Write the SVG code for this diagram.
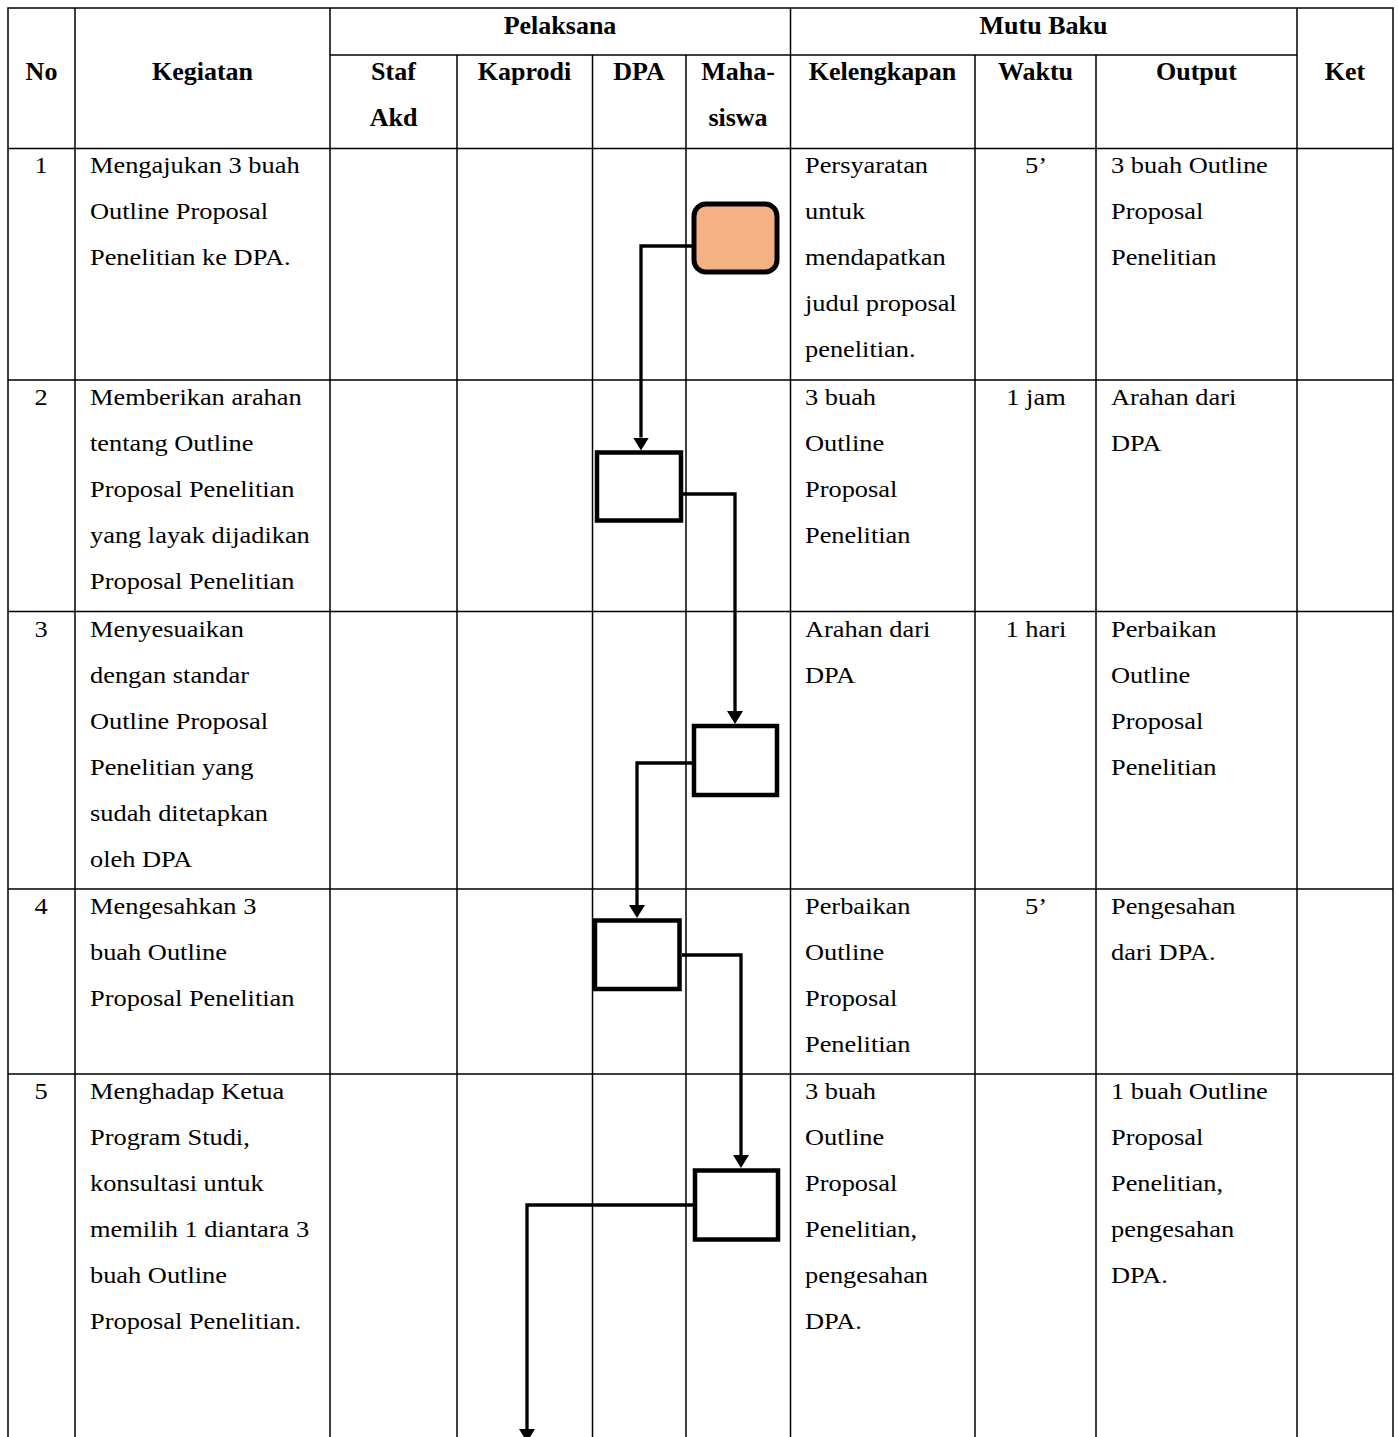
<svg xmlns="http://www.w3.org/2000/svg" width="1398" height="1437" viewBox="0 0 1398 1437">
<style>
.grid{stroke:#000;stroke-width:1.5;fill:none}
.hd{font-family:"Liberation Serif","Times New Roman",serif;font-weight:bold;font-size:26px;text-anchor:middle;fill:#000}
.bd{font-family:"Liberation Serif","Times New Roman",serif;font-size:24px;fill:#000}
.mid{text-anchor:middle}
.box{fill:#fff;stroke:#000;stroke-width:4.5}
.start{fill:#F4B183;stroke:#000;stroke-width:5}
.conn{fill:none;stroke:#000;stroke-width:3.3}
</style>
<defs>
<marker id="arr" markerUnits="userSpaceOnUse" viewBox="0 0 13 16" refX="0" refY="8" markerWidth="13" markerHeight="16" orient="auto">
<path d="M0,0 L13,8 L0,16 z" fill="#000"/>
</marker>
</defs>
<rect width="1398" height="1437" fill="#fff"/>
<g id="table" class="grid">
<path d="M8,1440 V8 H1393 V1440"/>
<path d="M75,8 V1440 M330,8 V1440 M790.5,8 V1440 M1297,8 V1440"/>
<path d="M457,55 V1440 M592.5,55 V1440 M686,55 V1440 M975,55 V1440 M1096,55 V1440"/>
<path d="M330,55 H1297"/>
<path d="M8,148.5 H1393 M8,380 H1393 M8,611.5 H1393 M8,889 H1393 M8,1074 H1393"/>
</g>
<g id="header">
<text class="hd" x="41.5" y="80">No</text>
<text class="hd" x="202.5" y="80">Kegiatan</text>
<text class="hd" x="560" y="34">Pelaksana</text>
<text class="hd" x="1043.5" y="34">Mutu Baku</text>
<text class="hd" x="1345" y="80">Ket</text>
<text class="hd" x="393.5" y="80">Staf</text>
<text class="hd" x="393.5" y="126">Akd</text>
<text class="hd" x="524.5" y="80">Kaprodi</text>
<text class="hd" x="639" y="80">DPA</text>
<text class="hd" x="738" y="80">Maha-</text>
<text class="hd" x="738" y="126">siswa</text>
<text class="hd" x="882.5" y="80">Kelengkapan</text>
<text class="hd" x="1035.5" y="80">Waktu</text>
<text class="hd" x="1196.5" y="80">Output</text>
</g>
<g id="body" class="bd" transform="scale(1.1,1)">
<g id="row1">
<text class="mid" x="37.3" y="173.5">1</text>
<text x="81.8"><tspan x="81.8" y="173.5">Mengajukan 3 buah</tspan><tspan x="81.8" y="219.5">Outline Proposal</tspan><tspan x="81.8" y="265.5">Penelitian ke DPA.</tspan></text>
<text x="731.8"><tspan x="731.8" y="173.5">Persyaratan</tspan><tspan x="731.8" y="219.5">untuk</tspan><tspan x="731.8" y="265.5">mendapatkan</tspan><tspan x="731.8" y="311.5">judul proposal</tspan><tspan x="731.8" y="357.5">penelitian.</tspan></text>
<text class="mid" x="941.8" y="173.5">5’</text>
<text x="1010"><tspan x="1010" y="173.5">3 buah Outline</tspan><tspan x="1010" y="219.5">Proposal</tspan><tspan x="1010" y="265.5">Penelitian</tspan></text>
</g>
<g id="row2">
<text class="mid" x="37.3" y="405.5">2</text>
<text x="81.8"><tspan x="81.8" y="405.5">Memberikan arahan</tspan><tspan x="81.8" y="451.5">tentang Outline</tspan><tspan x="81.8" y="497.5">Proposal Penelitian</tspan><tspan x="81.8" y="543.5">yang layak dijadikan</tspan><tspan x="81.8" y="589.5">Proposal Penelitian</tspan></text>
<text x="731.8"><tspan x="731.8" y="405.5">3 buah</tspan><tspan x="731.8" y="451.5">Outline</tspan><tspan x="731.8" y="497.5">Proposal</tspan><tspan x="731.8" y="543.5">Penelitian</tspan></text>
<text class="mid" x="941.8" y="405.5">1 jam</text>
<text x="1010"><tspan x="1010" y="405.5">Arahan dari</tspan><tspan x="1010" y="451.5">DPA</tspan></text>
</g>
<g id="row3">
<text class="mid" x="37.3" y="637">3</text>
<text x="81.8"><tspan x="81.8" y="637">Menyesuaikan</tspan><tspan x="81.8" y="683">dengan standar</tspan><tspan x="81.8" y="729">Outline Proposal</tspan><tspan x="81.8" y="775">Penelitian yang</tspan><tspan x="81.8" y="821">sudah ditetapkan</tspan><tspan x="81.8" y="867">oleh DPA</tspan></text>
<text x="731.8"><tspan x="731.8" y="637">Arahan dari</tspan><tspan x="731.8" y="683">DPA</tspan></text>
<text class="mid" x="941.8" y="637">1 hari</text>
<text x="1010"><tspan x="1010" y="637">Perbaikan</tspan><tspan x="1010" y="683">Outline</tspan><tspan x="1010" y="729">Proposal</tspan><tspan x="1010" y="775">Penelitian</tspan></text>
</g>
<g id="row4">
<text class="mid" x="37.3" y="914.5">4</text>
<text x="81.8"><tspan x="81.8" y="914.5">Mengesahkan 3</tspan><tspan x="81.8" y="960.5">buah Outline</tspan><tspan x="81.8" y="1006.5">Proposal Penelitian</tspan></text>
<text x="731.8"><tspan x="731.8" y="914.5">Perbaikan</tspan><tspan x="731.8" y="960.5">Outline</tspan><tspan x="731.8" y="1006.5">Proposal</tspan><tspan x="731.8" y="1052.5">Penelitian</tspan></text>
<text class="mid" x="941.8" y="914.5">5’</text>
<text x="1010"><tspan x="1010" y="914.5">Pengesahan</tspan><tspan x="1010" y="960.5">dari DPA.</tspan></text>
</g>
<g id="row5">
<text class="mid" x="37.3" y="1099.5">5</text>
<text x="81.8"><tspan x="81.8" y="1099.5">Menghadap Ketua</tspan><tspan x="81.8" y="1145.5">Program Studi,</tspan><tspan x="81.8" y="1191.5">konsultasi untuk</tspan><tspan x="81.8" y="1237.5">memilih 1 diantara 3</tspan><tspan x="81.8" y="1283.5">buah Outline</tspan><tspan x="81.8" y="1329.5">Proposal Penelitian.</tspan></text>
<text x="731.8"><tspan x="731.8" y="1099.5">3 buah</tspan><tspan x="731.8" y="1145.5">Outline</tspan><tspan x="731.8" y="1191.5">Proposal</tspan><tspan x="731.8" y="1237.5">Penelitian,</tspan><tspan x="731.8" y="1283.5">pengesahan</tspan><tspan x="731.8" y="1329.5">DPA.</tspan></text>
<text x="1010"><tspan x="1010" y="1099.5">1 buah Outline</tspan><tspan x="1010" y="1145.5">Proposal</tspan><tspan x="1010" y="1191.5">Penelitian,</tspan><tspan x="1010" y="1237.5">pengesahan</tspan><tspan x="1010" y="1283.5">DPA.</tspan></text>
</g>
</g>
<g id="connectors">
<path class="conn" d="M692,246 H641 V437.5" marker-end="url(#arr)"/>
<path class="conn" d="M683,494 H735 V711" marker-end="url(#arr)"/>
<path class="conn" d="M692,763 H637 V905" marker-end="url(#arr)"/>
<path class="conn" d="M682,955 H741 V1155" marker-end="url(#arr)"/>
<path class="conn" d="M693,1205 H527 V1429" marker-end="url(#arr)"/>
</g>
<g id="node-start"><rect class="start" x="694" y="204" width="83" height="68" rx="12" ry="12"/></g>
<g id="node-2"><rect class="box" x="597" y="452.5" width="84" height="68"/></g>
<g id="node-3"><rect class="box" x="694" y="726" width="83" height="69"/></g>
<g id="node-4"><rect class="box" x="595" y="920.5" width="84.5" height="68.5"/></g>
<g id="node-5"><rect class="box" x="695" y="1170.5" width="83" height="69"/></g>
</svg>
